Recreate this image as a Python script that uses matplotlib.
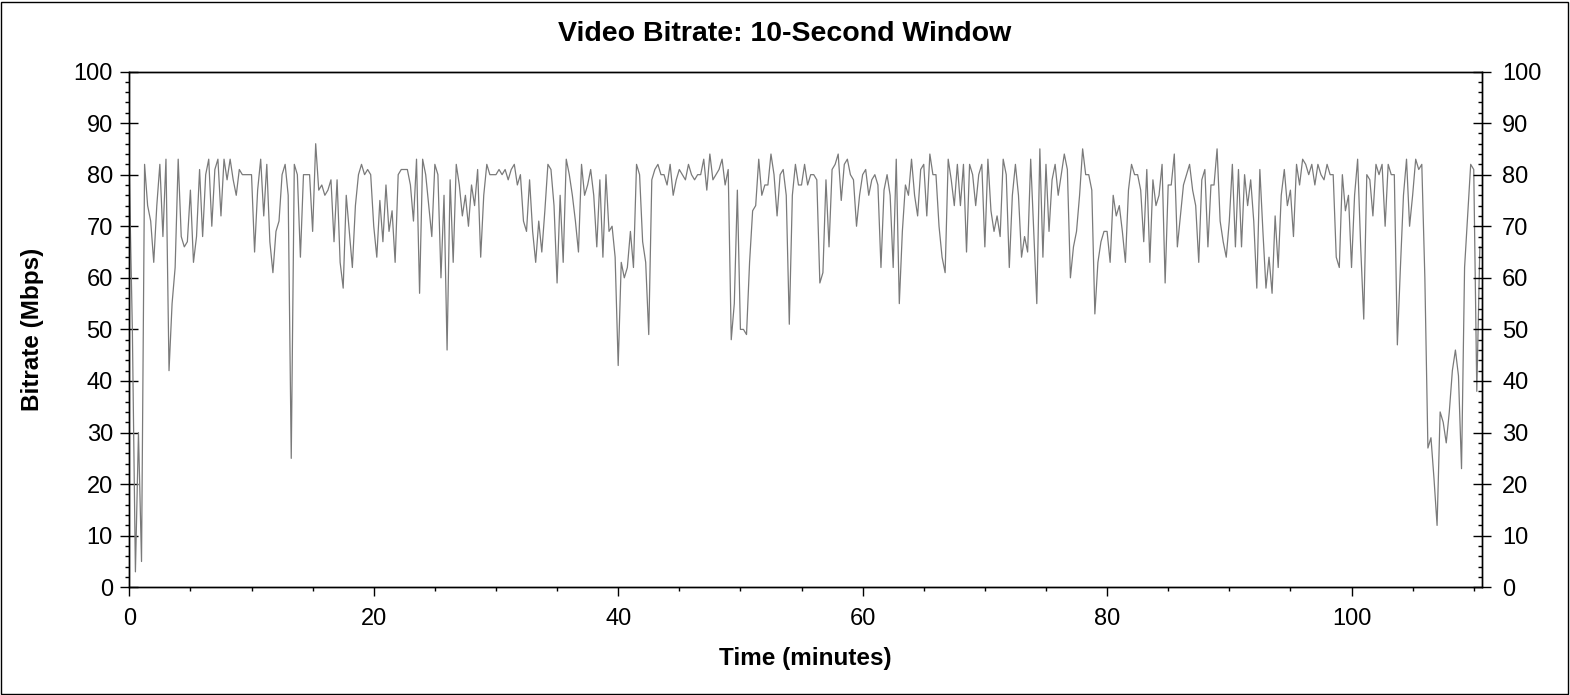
import matplotlib
matplotlib.use('Agg')
import matplotlib.pyplot as plt
from matplotlib.patches import Rectangle
import numpy as np

# one reading every 15 seconds, values in Mbps (10-second window average)
step_min = 0.25
bitrate = [
    80, 50, 3, 30,    5, 82, 74, 71,    63, 74, 82, 68,   83, 42, 55, 62,   83, 68, 66, 67,
    77, 63, 68, 81,   68, 80, 83, 70,   81, 83, 72, 83,   79, 83, 79, 76,   81, 80, 80, 80,
    80, 65, 77, 83,   72, 82, 67, 61,   69, 71, 80, 82,   76, 25, 82, 80,   64, 80, 80, 80,
    69, 86, 77, 78,   76, 77, 79, 67,   79, 63, 58, 76,   69, 62, 74, 80,   82, 80, 81, 80,
    70, 64, 75, 67,   78, 69, 73, 63,   80, 81, 81, 81,   78, 71, 83, 57,   83, 80, 74, 68,
    82, 80, 60, 76,   46, 79, 63, 82,   78, 72, 76, 70,   78, 74, 81, 64,   76, 82, 80, 80,
    80, 81, 80, 81,   79, 81, 82, 78,   80, 71, 69, 79,   69, 63, 71, 65,   73, 82, 81, 74,
    59, 76, 63, 83,   80, 76, 71, 65,   82, 76, 78, 81,   76, 66, 79, 64,   80, 69, 70, 64,
    43, 63, 60, 62,   69, 62, 82, 80,   67, 63, 49, 79,   81, 82, 80, 80,   78, 82, 76, 79,
    81, 80, 79, 82,   80, 79, 80, 80,   83, 77, 84, 79,   80, 81, 83, 78,   81, 48, 55, 77,
    50, 50, 49, 63,   73, 74, 83, 76,   78, 78, 84, 80,   72, 80, 81, 76,   51, 76, 82, 78,
    78, 82, 78, 80,   80, 79, 59, 61,   79, 66, 81, 82,   84, 75, 82, 83,   80, 79, 70, 76,
    80, 81, 76, 79,   80, 78, 62, 77,   80, 76, 62, 83,   55, 69, 78, 76,   83, 76, 72, 81,
    82, 72, 84, 80,   80, 70, 64, 61,   83, 79, 74, 82,   74, 82, 65, 82,   80, 74, 80, 82,
    66, 83, 73, 69,   72, 68, 83, 80,   62, 76, 82, 76,   64, 68, 65, 83,   69, 55, 85, 64,
    82, 69, 79, 82,   76, 80, 84, 81,   60, 66, 69, 76,   85, 80, 80, 77,   53, 63, 67, 69,
    69, 63, 76, 72,   74, 69, 63, 77,   82, 80, 80, 77,   67, 81, 63, 79,   74, 76, 82, 59,
    78, 78, 84, 66,   72, 78, 80, 82,   77, 74, 63, 79,   81, 66, 78, 78,   85, 71, 67, 64,
    71, 82, 66, 81,   66, 80, 74, 79,   71, 58, 81, 69,   58, 64, 57, 72,   62, 76, 81, 74,
    77, 68, 82, 78,   83, 82, 80, 82,   78, 82, 80, 79,   82, 80, 80, 64,   62, 80, 73, 76,
    62, 76, 83, 66,   52, 80, 79, 72,   82, 80, 82, 70,   82, 80, 80, 47,   62, 76, 83, 70,
    76, 83, 81, 82,   60, 27, 29, 21,   12, 34, 32, 28,   34, 42, 46, 41,   23, 62, 72, 82,
    81, 38, 66,
]
x_major = [0, 20, 40, 60, 80, 100]
y_major = [0, 10, 20, 30, 40, 50, 60, 70, 80, 90, 100]

plt.rcParams['font.family'] = ['Liberation Sans', 'DejaVu Sans']

W, H = 1570, 695
fig = plt.figure(figsize=(W / 100, H / 100), dpi=100)
left, right, top, bottom = 129.3, 1482.3, 71.5, 587.3
ax = fig.add_axes([left / W, 1 - bottom / H, (right - left) / W, (bottom - top) / H])

t = np.arange(len(bitrate)) * step_min
ax.plot(t, bitrate, color='#7a7a7a', linewidth=0.9)

ax.set_xlim(0, 110.7)
ax.set_ylim(0, 100)
ax.set_xticks(x_major)
ax.set_xticks(np.arange(0, 111, 5), minor=True)
ax.set_yticks(y_major)
ax.set_yticks(np.arange(0, 101, 2), minor=True)

for s in ax.spines.values():
    s.set_linewidth(1.0)

ax.tick_params(axis='x', which='major', direction='out', length=6.8, width=1.0,
               labelsize=17, pad=8)
ax.tick_params(axis='x', which='minor', direction='out', length=3.2, width=1.0)
ax.tick_params(axis='y', which='major', direction='inout', length=12.7, width=1.0,
               labelsize=17, pad=5.5)
ax.tick_params(axis='y', which='minor', direction='out', length=3.2, width=1.0)

# right-hand copy of the y scale
ax2 = ax.twinx()
ax2.set_ylim(0, 100)
ax2.set_yticks(y_major)
ax2.set_yticks(np.arange(0, 101, 2), minor=True)
ax2.tick_params(axis='y', which='major', direction='inout', length=12.7, width=1.0,
                labelsize=17, pad=8)
ax2.tick_params(axis='y', which='minor', direction='in', length=3.2, width=1.0)
for s in ax2.spines.values():
    s.set_linewidth(1.0)

ax.set_xlabel('Time (minutes)', fontsize=17.5, fontweight='bold')
ax.xaxis.set_label_coords(0.5, -(659 - bottom) / (bottom - top), transform=ax.transAxes)
ax.set_ylabel('Bitrate (Mbps)', fontsize=17.5, fontweight='bold')
ax.yaxis.set_label_coords(-(left - 33) / (right - left), 0.5, transform=ax.transAxes)
ax.xaxis.label.set_va('center')
ax.yaxis.label.set_va('center')

fig.text(0.5, 1 - 34 / H, 'Video Bitrate: 10-Second Window', fontsize=20.5,
         fontweight='bold', ha='center', va='center')

fig.add_artist(Rectangle((0.5 / W, 1.5 / H), (W - 2.5) / W, (H - 3) / H,
                         transform=fig.transFigure, fill=False, edgecolor='black',
                         linewidth=1.0))

fig.savefig('out.png', dpi=100)
